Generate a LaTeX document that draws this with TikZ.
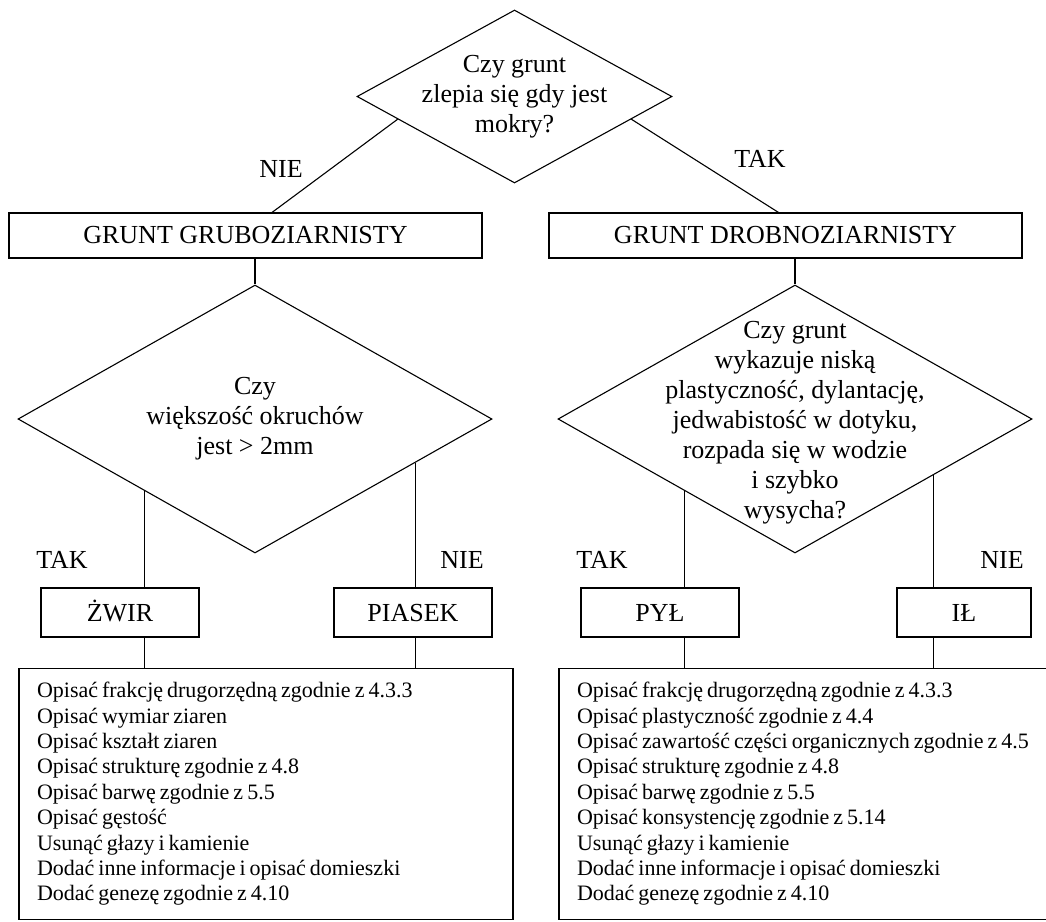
\documentclass[tikz,border=0pt]{standalone}
\usepackage{fontspec}
\setmainfont{Liberation Serif}
\usetikzlibrary{shapes.geometric,calc}

\begin{document}
\begin{tikzpicture}[x=1pt, y=-1pt, node distance={540pt}, line width=1.1pt,
  dia/.style = {draw, diamond, inner sep=0pt, minimum width=474pt, minimum height=268pt},
  qtext/.style = {align=center, font=\fontsize{26}{30}\selectfont},
  box/.style = {draw, rectangle, inner sep=0pt, minimum width=473pt, minimum height=45pt, font=\fontsize{26}{30}\selectfont},
  soil/.style = {draw, rectangle, inner sep=0pt, minimum width=158pt, minimum height=49pt, text height=17.2pt, text depth=0pt, font=\fontsize{26}{30}\selectfont},
  ans/.style = {font=\fontsize{26}{30}\selectfont},
  list/.style = {draw, rectangle, inner xsep=18pt, text width=458pt, minimum height=250.5pt, align=left, font=\fontsize{22}{25.4}\selectfont, execute at begin node={\spaceskip=4pt plus 1pt minus 1pt\relax}}]
\useasboundingbox (0,0) rectangle (1046,921);
\node[dia, minimum width=315pt, minimum height=173pt] (top) at (514.5,96.5) {};
\node[qtext] (q1) at (top.center) {Czy grunt\\zlepia się gdy jest\\mokry?};
\node[box] (coarse) at (245.5,235.5) {GRUNT GRUBOZIARNISTY};
\node[box] (fine) [right of=coarse] {GRUNT DROBNOZIARNISTY};
\node[dia] (d2) at (255,419) {};
\node[dia] (d3) [right of=d2] {};
\node[qtext] (q2) at (d2.center) {Czy\\większość okruchów\\jest > 2mm};
\node[qtext] (q3) at ([yshift=-4pt]d3.center) {Czy grunt\\wykazuje niską\\plastyczność, dylantację,\\jedwabistość w dotyku,\\rozpada się w wodzie\\i szybko\\wysycha?};
\node[soil] (zwir) at (120,612.5) {ŻWIR};
\node[soil] (piasek) at (413,612.5) {PIASEK};
\node[soil] (pyl) [right of=zwir] {PYŁ};
\node[soil, minimum width=134pt] (il) at (964,612.5) {IŁ};
\node[ans] (nie1) at (281,169) {NIE};
\node[ans] (tak1) at (760,159) {TAK};
\node[ans] (tak2) at (62,560) {TAK};
\node[ans] (nie2) at (462,560) {NIE};
\node[ans] (tak3) [right of=tak2] {TAK};
\node[ans] (nie3) [right of=nie2] {NIE};
\node[list] (list1) at (266,794) {Opisać frakcję drugorzędną zgodnie z 4.3.3\\Opisać wymiar ziaren\\Opisać kształt ziaren\\Opisać strukturę zgodnie z 4.8\\Opisać barwę zgodnie z 5.5\\Opisać gęstość\\Usunąć głazy i kamienie\\Dodać inne informacje i opisać domieszki\\Dodać genezę zgodnie z 4.10};
\node[list, text width=490pt] (list2) [right of=list1, xshift=16pt] {Opisać frakcję drugorzędną zgodnie z 4.3.3\\Opisać plastyczność zgodnie z 4.4\\Opisać zawartość części organicznych zgodnie z 4.5\\Opisać strukturę zgodnie z 4.8\\Opisać barwę zgodnie z 5.5\\Opisać konsystencję zgodnie z 5.14\\Usunąć głazy i kamienie\\Dodać inne informacje i opisać domieszki\\Dodać genezę zgodnie z 4.10};
\coordinate (e1) at ($(d2.west)!.536!(d2.south)$);
\coordinate (e2) at ($(d2.east)!.325!(d2.south)$);
\coordinate (e3) at ($(d3.west)!.536!(d3.south)$);
\coordinate (e4) at ($(d3.east)!.418!(d3.south)$);
\draw (top.191.3) -- ([xshift=26.5pt]coarse.north);
\draw (top.349.4) -- ([xshift=-7pt]fine.north);
\draw (coarse.south -| d2.north) -- (d2.north);
\draw (fine.south -| d3.north) -- (d3.north);
\draw (e1) -- (e1 |- zwir.north);
\draw (e2) -- (e2 |- piasek.north);
\draw (e3) -- (e3 |- pyl.north);
\draw (e4) -- (e4 |- il.north);
\draw (e1 |- zwir.south) -- (e1 |- list1.north);
\draw (e2 |- piasek.south) -- (e2 |- list1.north);
\draw (e3 |- pyl.south) -- (e3 |- list2.north);
\draw (e4 |- il.south) -- (e4 |- list2.north);
\end{tikzpicture}
\end{document}
